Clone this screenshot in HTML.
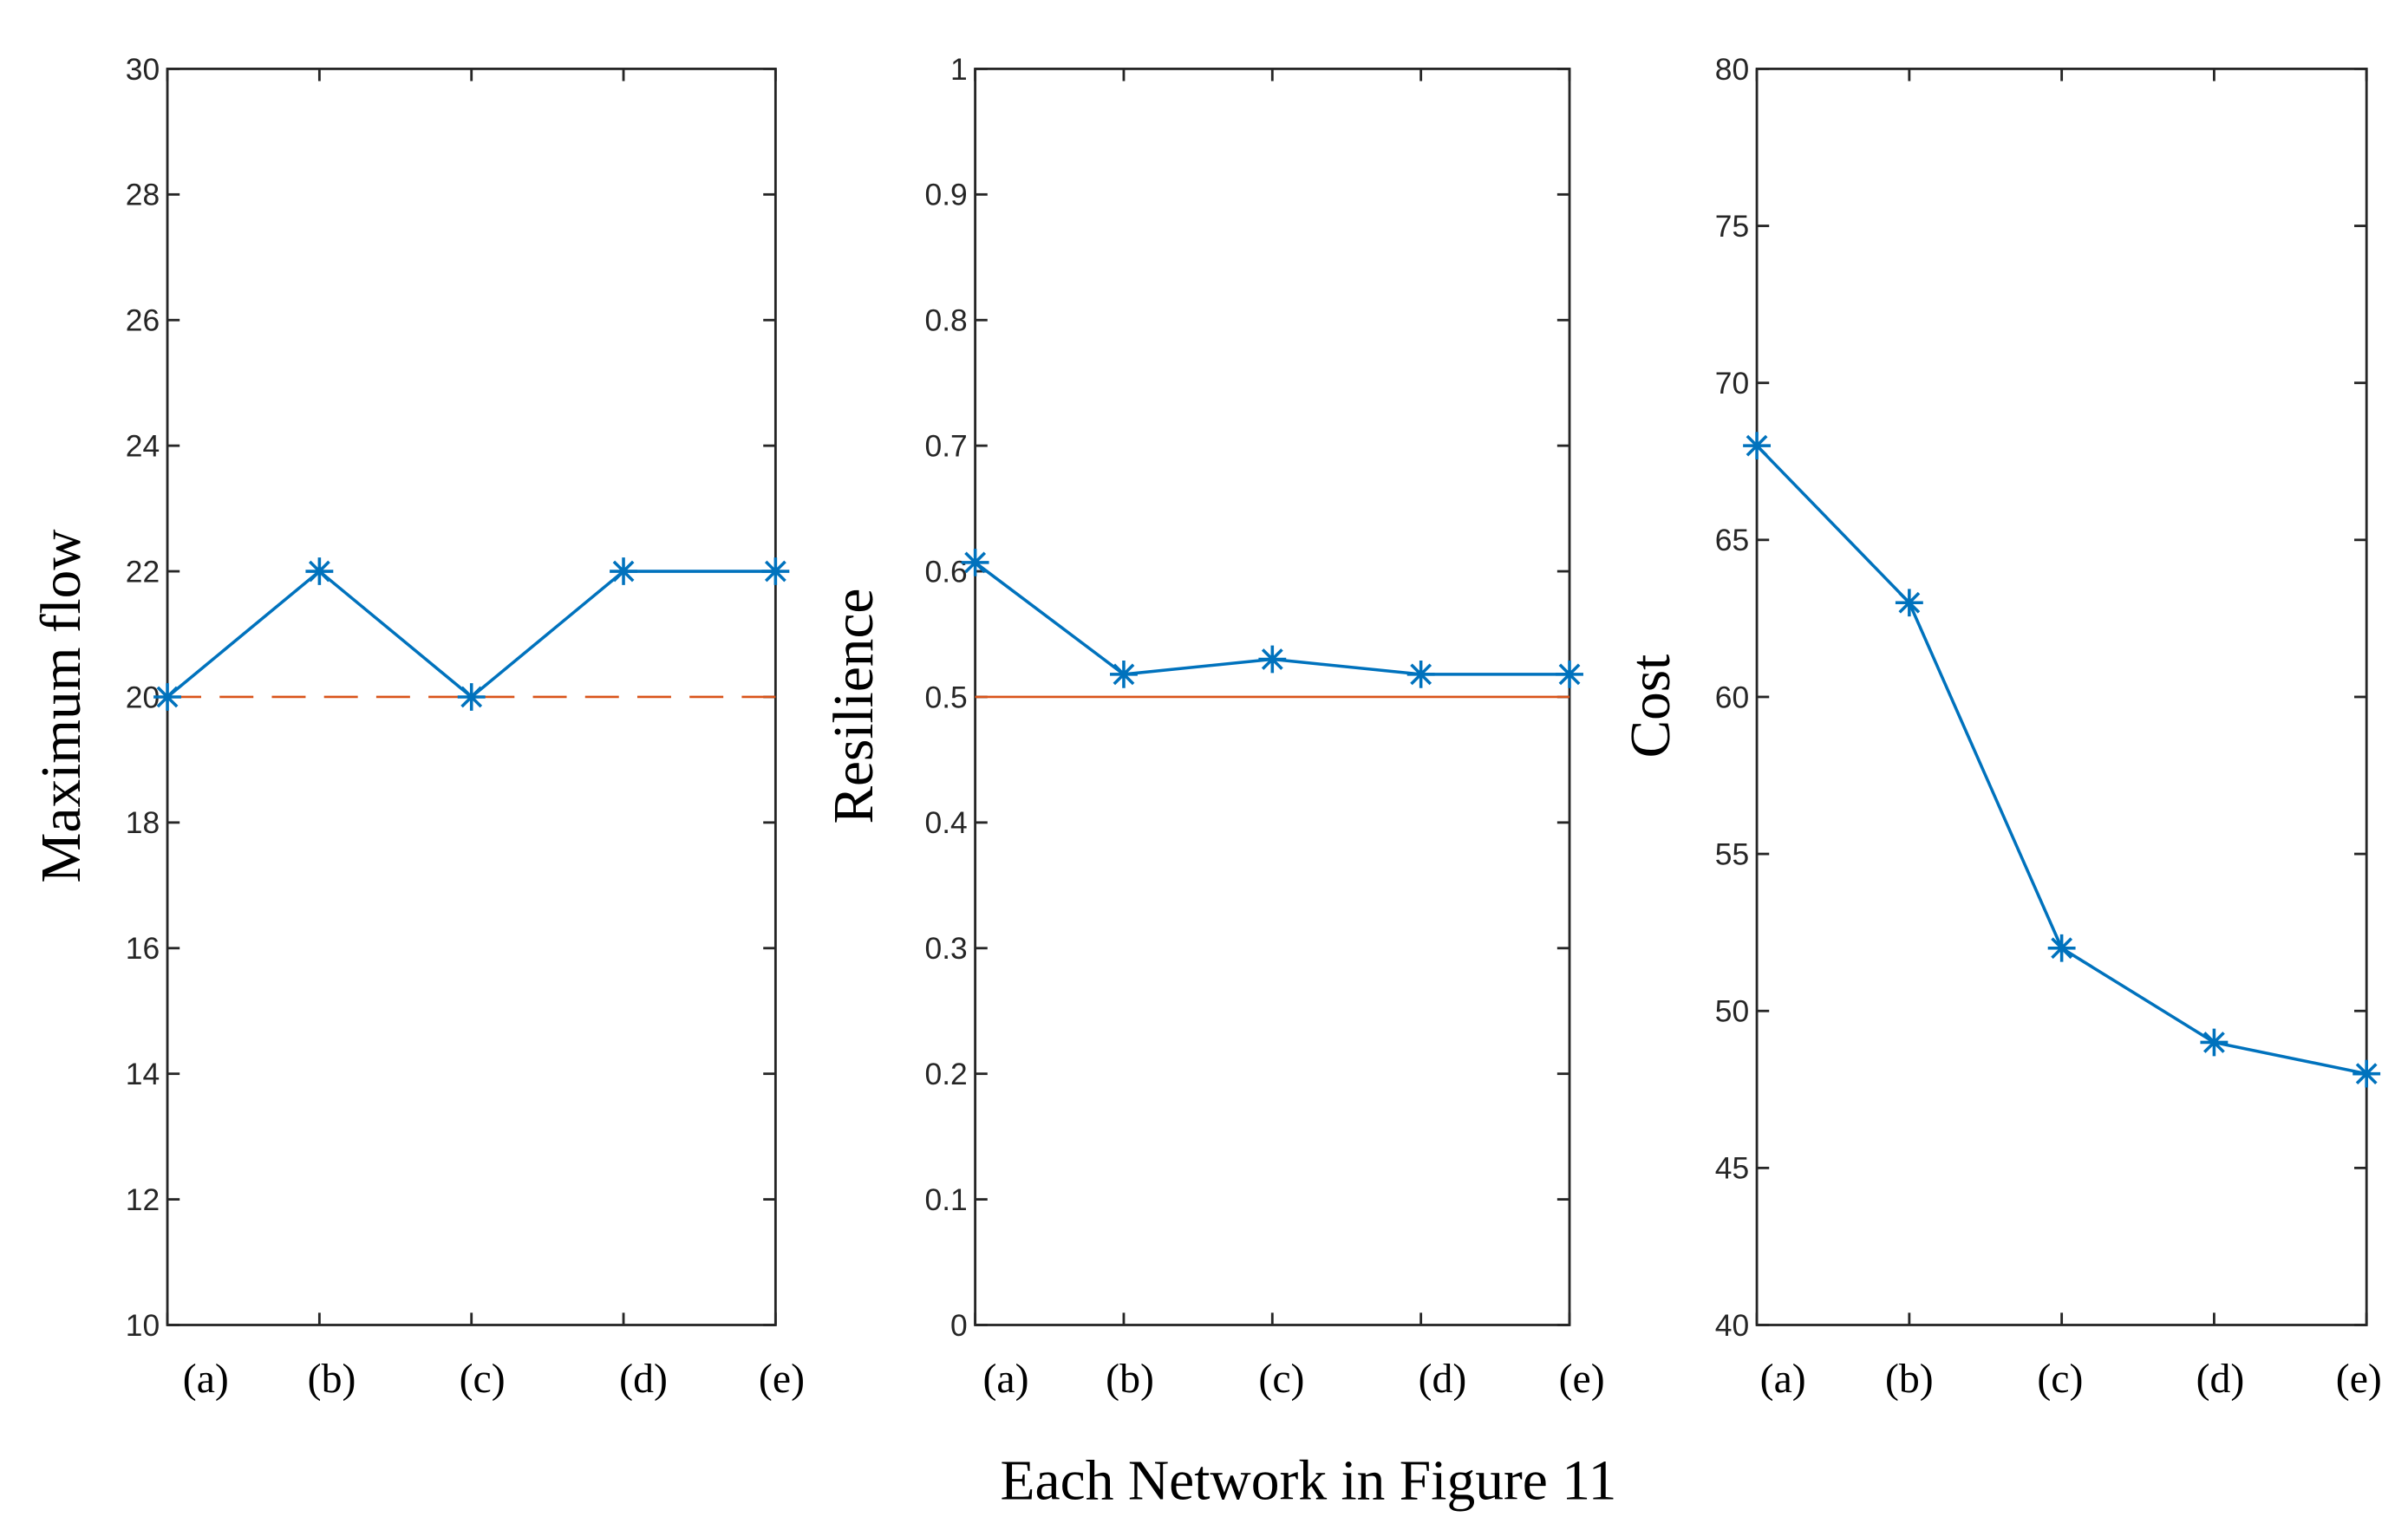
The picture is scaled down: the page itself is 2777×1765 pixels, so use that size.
<!DOCTYPE html>
<html><head><meta charset="utf-8"><style>
html,body{margin:0;padding:0;background:#fff;}
svg{display:block;}
</style></head><body>
<svg id="fig" xmlns="http://www.w3.org/2000/svg" width="2777" height="1765" viewBox="0 0 1568 1000" preserveAspectRatio="none">
<rect x="0" y="0" width="1568" height="1000" fill="#fff"/>
<text x="852" y="980" font-family="Liberation Serif, serif" font-size="37" text-anchor="middle" fill="#000">Each Network in Figure 11</text>
</svg>
<script>
const categories = ['(a)','(b)','(c)','(d)','(e)'];
const flowValues = [20, 22, 20, 22, 22];
const resilienceValues = [0.607, 0.518, 0.53, 0.518, 0.518];
const costValues = [68, 63, 52, 49, 48];
const flowTicks = [10,12,14,16,18,20,22,24,26,28,30];
const resilienceTicks = [0,0.1,0.2,0.3,0.4,0.5,0.6,0.7,0.8,0.9,1];
const costTicks = [40,45,50,55,60,65,70,75,80];
const flowThreshold = 20;
const resilienceThreshold = 0.5;

const NS = 'http://www.w3.org/2000/svg';
const svg = document.getElementById('fig');
function mk(tag, attrs, parent){
  const e = document.createElementNS(NS, tag);
  for (const k in attrs) e.setAttribute(k, attrs[k]);
  (parent||svg).appendChild(e);
  return e;
}
const TOP = 45, BOT = 866;

function panel(name, left, right, ticks, values, yTitle, titleX, threshold, dashed, offs){
  const g = mk('g', {});
  
  
  const ymin = ticks[0], ymax = ticks[ticks.length-1];
  const y = v => BOT - (v - ymin) / (ymax - ymin) * (BOT - TOP);
  const x = i => left + i * (right - left) / (categories.length - 1);
  const frame = mk('rect', {x:left, y:TOP, width:right-left, height:BOT-TOP, fill:'none', stroke:'#262626', 'stroke-width':1.6}, g);
  
  
  ticks.forEach(t => {
    const yy = y(t);
    mk('line', {x1:left, x2:left+8, y1:yy, y2:yy, stroke:'#262626', 'stroke-width':1.6}, g);
    mk('line', {x1:right, x2:right-8, y1:yy, y2:yy, stroke:'#262626', 'stroke-width':1.6}, g);
    const tl = mk('text', {x:left-5, y:yy+7, 'text-anchor':'end', 'font-family':'Liberation Sans, sans-serif', 'font-size':20, fill:'#262626'}, g);
    tl.textContent = String(t);
    
    
  });
  categories.forEach((c, i) => {
    const xx = x(i);
    mk('line', {x1:xx, x2:xx, y1:BOT, y2:BOT-8, stroke:'#262626', 'stroke-width':1.6}, g);
    mk('line', {x1:xx, x2:xx, y1:TOP, y2:TOP+8, stroke:'#262626', 'stroke-width':1.6}, g);
    const xl = mk('text', {x:xx+offs[i], y:910, 'text-anchor':'middle', 'font-family':'Liberation Serif, serif', 'font-size':27, fill:'#000'}, g);
    xl.textContent = c;
    
    
  });
  if (threshold !== null) {
    const th = mk('line', {x1:left, x2:right, y1:y(threshold), y2:y(threshold), stroke:'#D95319', 'stroke-width':1.5}, g);
    if (dashed) th.setAttribute('stroke-dasharray', '22 12');
    
    
  }
  const pts = values.map((v, i) => x(i) + ',' + y(v)).join(' ');
  const line = mk('polyline', {points:pts, fill:'none', stroke:'#0072BD', 'stroke-width':2}, g);
  
  
  values.forEach((v, i) => {
    const cx = x(i), cy = y(v), r = 9;
    const m = mk('path', {d:`M${cx-r},${cy}H${cx+r}M${cx},${cy-r}V${cy+r}M${cx-r*0.7},${cy-r*0.7}L${cx+r*0.7},${cy+r*0.7}M${cx-r*0.7},${cy+r*0.7}L${cx+r*0.7},${cy-r*0.7}`, stroke:'#0072BD', 'stroke-width':2, fill:'none'}, g);
    
    
  });
  const cy = (TOP+BOT)/2 + 6;
  const yt = mk('text', {x:titleX, y:cy, 'text-anchor':'middle', 'font-family':'Liberation Serif, serif', 'font-size':37, fill:'#000', transform:`rotate(-90 ${titleX} ${cy})`}, g);
  yt.textContent = yTitle;
  
  
}
panel('max-flow', 109, 505, flowTicks, flowValues, 'Maximum flow', 52, flowThreshold, true, [25,8,7,13,4]);
panel('resilience', 635, 1022, resilienceTicks, resilienceValues, 'Resilience', 568, resilienceThreshold, false, [20,4,6,14,8]);
panel('cost', 1144, 1541, costTicks, costValues, 'Cost', 1087, null, false, [17,0,-1,4,-5]);
</script>
</body></html>
